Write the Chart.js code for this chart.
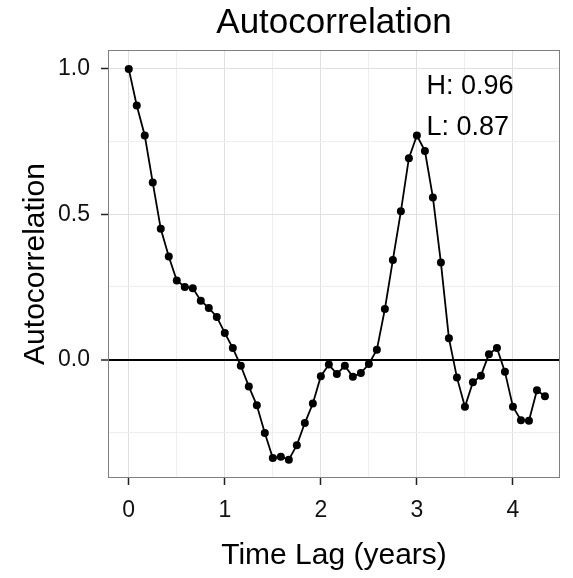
<!DOCTYPE html>
<html>
<head>
<meta charset="utf-8">
<title>Autocorrelation</title>
<script src="https://cdn.jsdelivr.net/npm/chart.js@4.4.1/dist/chart.umd.min.js"></script>
<style>
  html, body { margin: 0; padding: 0; background: #ffffff; }
  #wrap { width: 573px; height: 578px; position: relative; }
</style>
</head>
<body>
<div id="wrap"><canvas id="acfChart"></canvas></div>
<script>
/* data (monthly lags) */
const lagMonths = [
  0, 1, 2, 3, 4, 5, 6, 7, 8, 9, 10, 11, 12,
  13, 14, 15, 16, 17, 18, 19, 20, 21, 22, 23, 24,
  25, 26, 27, 28, 29, 30, 31, 32, 33, 34, 35, 36,
  37, 38, 39, 40, 41, 42, 43, 44, 45, 46, 47, 48,
  49, 50, 51, 52
];
const acfValues = [
  1.000, 0.874, 0.771, 0.609, 0.450, 0.355, 0.272, 0.250, 0.246, 0.203, 0.178, 0.147, 0.092,
  0.040, -0.021, -0.092, -0.157, -0.252, -0.338, -0.334, -0.344, -0.294, -0.218, -0.151, -0.057,
  -0.017, -0.049, -0.021, -0.059, -0.046, -0.015, 0.034, 0.174, 0.343, 0.510, 0.693, 0.771,
  0.718, 0.558, 0.334, 0.074, -0.061, -0.162, -0.078, -0.055, 0.019, 0.040, -0.042, -0.162,
  -0.208, -0.210, -0.105, -0.126
];

const xTickValues = [0, 0.5, 1, 1.5, 2, 2.5, 3, 3.5, 4];
const xTickLabels = { 0: "0", 1: "1", 2: "2", 3: "3", 4: "4" };
const yTickValues = [-0.25, 0, 0.25, 0.5, 0.75, 1.0];
const yTickLabels = { 0: "0.0", 0.5: "0.5", 1: "1.0" };

const noteText = ["H: 0.96", "L: 0.87"];
const noteX = [3.1, 3.1];
const noteY = [0.94, 0.797];

const FONT = "'Liberation Sans', Arial, Helvetica, sans-serif";

document.addEventListener("DOMContentLoaded", () => {

  const points = lagMonths.map((m, i) => ({ x: m / 12, y: acfValues[i] }));

  // panel border + text notes
  const panelPlugin = {
    id: "panel",
    afterDatasetsDraw(chart) {
      const { ctx, chartArea: a, scales } = chart;
      ctx.save();
      ctx.fillStyle = "#000000";
      ctx.font = "27px " + FONT;
      ctx.textAlign = "left";
      ctx.textBaseline = "middle";
      noteText.forEach((t, i) => {
        ctx.fillText(t, scales.x.getPixelForValue(noteX[i]), scales.y.getPixelForValue(noteY[i]));
      });
      ctx.strokeStyle = "#7f7f7f";
      ctx.lineWidth = 1;
      ctx.strokeRect(a.left + 0.5, a.top + 0.5, a.width - 1, a.height - 1);
      ctx.restore();
    }
  };

  new Chart(document.getElementById("acfChart"), {
    type: "line",
    data: {
      datasets: [
        {
          data: points,
          borderColor: "#000000",
          borderWidth: 1.8,
          backgroundColor: "#000000",
          pointRadius: 4,
          pointBorderWidth: 0,
          tension: 0,
          fill: false
        }
      ]
    },
    options: {
      responsive: true,
      maintainAspectRatio: false,
      animation: false,
      layout: { padding: { left: 0, right: 13, top: 0, bottom: 0 } },
      plugins: {
        legend: { display: false },
        tooltip: { enabled: false },
        title: {
          display: true,
          fullSize: false,
          text: "Autocorrelation",
          color: "#000000",
          font: { family: FONT, size: 35, weight: "normal", lineHeight: 1.2 },
          padding: { top: 2, bottom: 6 }
        }
      },
      scales: {
        x: {
          type: "linear",
          min: -0.216,
          max: 4.49,
          afterBuildTicks: s => { s.ticks = xTickValues.map(v => ({ value: v })); },
          afterFit: s => { s.height = 100; },
          border: { display: false },
          grid: {
            color: c => (Number.isInteger(c.tick.value) ? "#e0e0e0" : "#eeeeee"),
            lineWidth: 1,
            tickLength: 7,
            tickWidth: 1.5,
            tickColor: c => (Number.isInteger(c.tick.value) ? "#222222" : "rgba(0,0,0,0)")
          },
          ticks: {
            autoSkip: false,
            maxRotation: 0,
            padding: 12,
            color: "#111111",
            font: { family: FONT, size: 23, lineHeight: 1.2 },
            callback: v => xTickLabels[v] || ""
          },
          title: {
            display: true,
            text: "Time Lag (years)",
            color: "#000000",
            font: { family: FONT, size: 30, lineHeight: 1 },
            padding: { top: 0, bottom: 7 }
          }
        },
        y: {
          type: "linear",
          min: -0.407,
          max: 1.065,
          afterBuildTicks: s => { s.ticks = yTickValues.map(v => ({ value: v })); },
          afterFit: s => { s.width = 108; },
          border: { display: false },
          grid: {
            color: c => {
              if (c.tick.value === 0) return "#000000";
              return yTickLabels[c.tick.value] ? "#e0e0e0" : "#eeeeee";
            },
            lineWidth: c => (c.tick.value === 0 ? 2 : 1),
            tickLength: 7,
            tickWidth: 1.5,
            tickColor: c => (yTickLabels[c.tick.value] ? "#222222" : "rgba(0,0,0,0)")
          },
          ticks: {
            autoSkip: false,
            padding: 11,
            color: "#111111",
            font: { family: FONT, size: 23, lineHeight: 1.2 },
            callback: v => yTickLabels[v] || ""
          },
          title: {
            display: true,
            text: "Autocorrelation",
            color: "#000000",
            font: { family: FONT, size: 30, lineHeight: 1 },
            padding: { top: 21, bottom: 0 }
          }
        }
      }
    },
    plugins: [panelPlugin]
  });

});
</script>
</body>
</html>
